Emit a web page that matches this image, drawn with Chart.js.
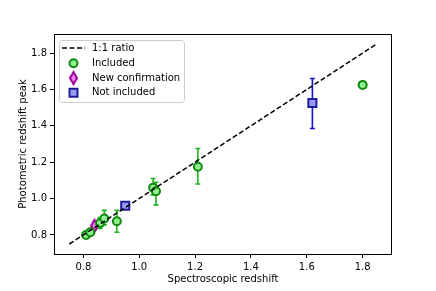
<!DOCTYPE html>
<html>
<head>
<meta charset="utf-8">
<script src="https://cdn.jsdelivr.net/npm/chart.js@4"></script>
<style>
  html, body { margin: 0; padding: 0; background: #fff; }
  #wrap { width: 436px; height: 291px; position: relative; }
</style>
</head>
<body>
<div id="wrap"><canvas id="chart" width="436" height="291"></canvas></div>
<script>
// values
const ratioX = [0.75, 1.85];
const ratioY = [0.75, 1.85];

const includedX = [0.81, 0.825, 0.86, 0.875, 0.92, 1.05, 1.06, 1.21, 1.80];
const includedY = [0.80, 0.815, 0.865, 0.89, 0.875, 1.06, 1.04, 1.175, 1.625];
const includedErrLo = [0.01, 0.015, 0.03, 0.035, 0.06, 0.04, 0.075, 0.095, 0.01];
const includedErrHi = [0.01, 0.015, 0.03, 0.045, 0.06, 0.05, 0.05, 0.10, 0.01];

const newX = [0.84];
const newY = [0.85];
const newErrLo = [0.02];
const newErrHi = [0.02];

const notIncX = [0.95, 1.62];
const notIncY = [0.96, 1.525];
const notIncErrLo = [0.01, 0.14];
const notIncErrHi = [0.01, 0.135];

const xTicks = [0.8, 1.0, 1.2, 1.4, 1.6, 1.8];
const yTicks = [0.8, 1.0, 1.2, 1.4, 1.6, 1.8];

const GREEN_EDGE = '#0f8a0f', GREEN_FILL = '#90ee90', GREEN_ERR = '#22b522';
const MAG_EDGE = '#9b009b', MAG_FILL = '#ee82ee', MAG_ERR = '#b000b0';
const BLUE_EDGE = '#1c1c9c', BLUE_FILL = '#9a9aee', BLUE_ERR = '#1414cc';

const zip = (xs, ys) => xs.map((x, i) => ({ x: x, y: ys[i] }));

// thin diamond marker like matplotlib 'd'
function thinDiamond(w, h, fill, edge) {
  const c = document.createElement('canvas');
  c.width = w + 4; c.height = h + 4;
  const g = c.getContext('2d');
  const cx = c.width / 2, cy = c.height / 2;
  g.beginPath();
  g.moveTo(cx, cy - h / 2);
  g.lineTo(cx + w / 2, cy);
  g.lineTo(cx, cy + h / 2);
  g.lineTo(cx - w / 2, cy);
  g.closePath();
  g.fillStyle = fill; g.fill();
  g.lineWidth = 2; g.strokeStyle = edge; g.stroke();
  return c;
}
const diamondImg = thinDiamond(7, 12, MAG_FILL, MAG_EDGE);

const errorSets = [
  { ds: 1, lo: includedErrLo, hi: includedErrHi, color: GREEN_ERR },
  { ds: 2, lo: newErrLo, hi: newErrHi, color: MAG_ERR },
  { ds: 3, lo: notIncErrLo, hi: notIncErrHi, color: BLUE_ERR }
];

const errorBars = {
  id: 'errorBars',
  beforeDatasetsDraw(chart) {
    const ctx = chart.ctx, xs = chart.scales.x, ys = chart.scales.y;
    ctx.save();
    ctx.lineWidth = 1.6;
    errorSets.forEach(es => {
      const data = chart.data.datasets[es.ds].data;
      ctx.strokeStyle = es.color;
      data.forEach((p, i) => {
        const px = xs.getPixelForValue(p.x);
        const top = ys.getPixelForValue(p.y + es.hi[i]);
        const bot = ys.getPixelForValue(p.y - es.lo[i]);
        ctx.beginPath();
        ctx.moveTo(px, top); ctx.lineTo(px, bot);
        ctx.moveTo(px - 2.5, top); ctx.lineTo(px + 2.5, top);
        ctx.moveTo(px - 2.5, bot); ctx.lineTo(px + 2.5, bot);
        ctx.stroke();
      });
    });
    ctx.restore();
  }
};

const frameAndLegend = {
  id: 'frameAndLegend',
  afterDraw(chart) {
    const ctx = chart.ctx, a = chart.chartArea;
    ctx.save();
    ctx.strokeStyle = '#000';
    ctx.lineWidth = 1;
    ctx.strokeRect(Math.round(a.left) + 0.5, Math.round(a.top) + 0.5,
      Math.round(a.right - a.left) - 1, Math.round(a.bottom - a.top));

    // legend box
    const bx = a.left + 5.5, by = a.top + 6.5, bw = 125, bh = 62, r = 3;
    ctx.beginPath();
    ctx.moveTo(bx + r, by);
    ctx.arcTo(bx + bw, by, bx + bw, by + bh, r);
    ctx.arcTo(bx + bw, by + bh, bx, by + bh, r);
    ctx.arcTo(bx, by + bh, bx, by, r);
    ctx.arcTo(bx, by, bx + bw, by, r);
    ctx.closePath();
    ctx.fillStyle = 'rgba(255,255,255,0.8)';
    ctx.fill();
    ctx.strokeStyle = '#cccccc';
    ctx.stroke();

    const mx = a.left + 19.5, tx = a.left + 38;
    const rows = [by + 7.5, by + 22.8, by + 37.6, by + 52.3];

    ctx.strokeStyle = '#000';
    ctx.lineWidth = 1.5;
    ctx.setLineDash([5, 2.5]);
    ctx.beginPath();
    ctx.moveTo(a.left + 8, rows[0]); ctx.lineTo(a.left + 31, rows[0]);
    ctx.stroke();
    ctx.setLineDash([]);

    ctx.lineWidth = 2;
    ctx.beginPath();
    ctx.arc(mx, rows[1], 4, 0, Math.PI * 2);
    ctx.fillStyle = GREEN_FILL; ctx.fill();
    ctx.strokeStyle = GREEN_EDGE; ctx.stroke();

    ctx.drawImage(diamondImg, mx - diamondImg.width / 2, rows[2] - diamondImg.height / 2);

    ctx.beginPath();
    ctx.rect(mx - 4, rows[3] - 4, 8, 8);
    ctx.fillStyle = BLUE_FILL; ctx.fill();
    ctx.strokeStyle = BLUE_EDGE; ctx.stroke();

    ctx.fillStyle = '#000';
    ctx.font = '10px "DejaVu Sans"';
    ctx.textBaseline = 'middle';
    ['1:1 ratio', 'Included', 'New confirmation', 'Not included'].forEach((t, i) => {
      ctx.fillText(t, tx, rows[i]);
    });
    ctx.restore();
  }
};

const tickFont = { family: 'DejaVu Sans', size: 10 };

new Chart(document.getElementById('chart'), {
  type: 'scatter',
  data: {
    datasets: [
      {
        label: '1:1 ratio',
        type: 'line',
        data: zip(ratioX, ratioY),
        borderColor: '#000',
        borderWidth: 1.5,
        borderDash: [5, 2.5],
        pointRadius: 0,
        fill: false
      },
      {
        label: 'Included',
        data: zip(includedX, includedY),
        pointStyle: 'circle',
        pointRadius: 4,
        backgroundColor: GREEN_FILL,
        borderColor: GREEN_EDGE,
        borderWidth: 2
      },
      {
        label: 'New confirmation',
        data: zip(newX, newY),
        pointStyle: diamondImg,
        pointRadius: 6
      },
      {
        label: 'Not included',
        data: zip(notIncX, notIncY),
        pointStyle: 'rect',
        pointRadius: 5.7,
        backgroundColor: BLUE_FILL,
        borderColor: BLUE_EDGE,
        borderWidth: 2
      }
    ]
  },
  options: {
    responsive: false,
    animation: false,
    layout: { padding: { top: 34, right: 44, left: 0, bottom: 0 } },
    plugins: { legend: { display: false }, tooltip: { enabled: false } },
    scales: {
      x: {
        type: 'linear',
        min: 0.695,
        max: 1.905,
        afterFit: s => { s.height = 37; },
        afterBuildTicks: s => { s.ticks = xTicks.map(v => ({ value: v })); },
        ticks: { font: tickFont, color: '#000', padding: 3, maxRotation: 0,
          callback: v => Number(v).toFixed(1) },
        grid: { drawOnChartArea: false, drawTicks: true, tickLength: 4, color: '#000' },
        border: { display: false },
        title: { display: true, text: 'Spectroscopic redshift', font: tickFont, color: '#000',
          padding: { top: 0, bottom: 6 } }
      },
      y: {
        type: 'linear',
        min: 0.695,
        max: 1.905,
        afterFit: s => { s.width = 54; },
        afterBuildTicks: s => { s.ticks = yTicks.map(v => ({ value: v })); },
        ticks: { font: tickFont, color: '#000', padding: 3,
          callback: v => Number(v).toFixed(1) },
        grid: { drawOnChartArea: false, drawTicks: true, tickLength: 4, color: '#000' },
        border: { display: false },
        title: { display: true, text: 'Photometric redshift peak', font: tickFont, color: '#000',
          padding: { top: 17, bottom: 0 } }
      }
    }
  },
  plugins: [errorBars, frameAndLegend]
});
</script>
</body>
</html>
